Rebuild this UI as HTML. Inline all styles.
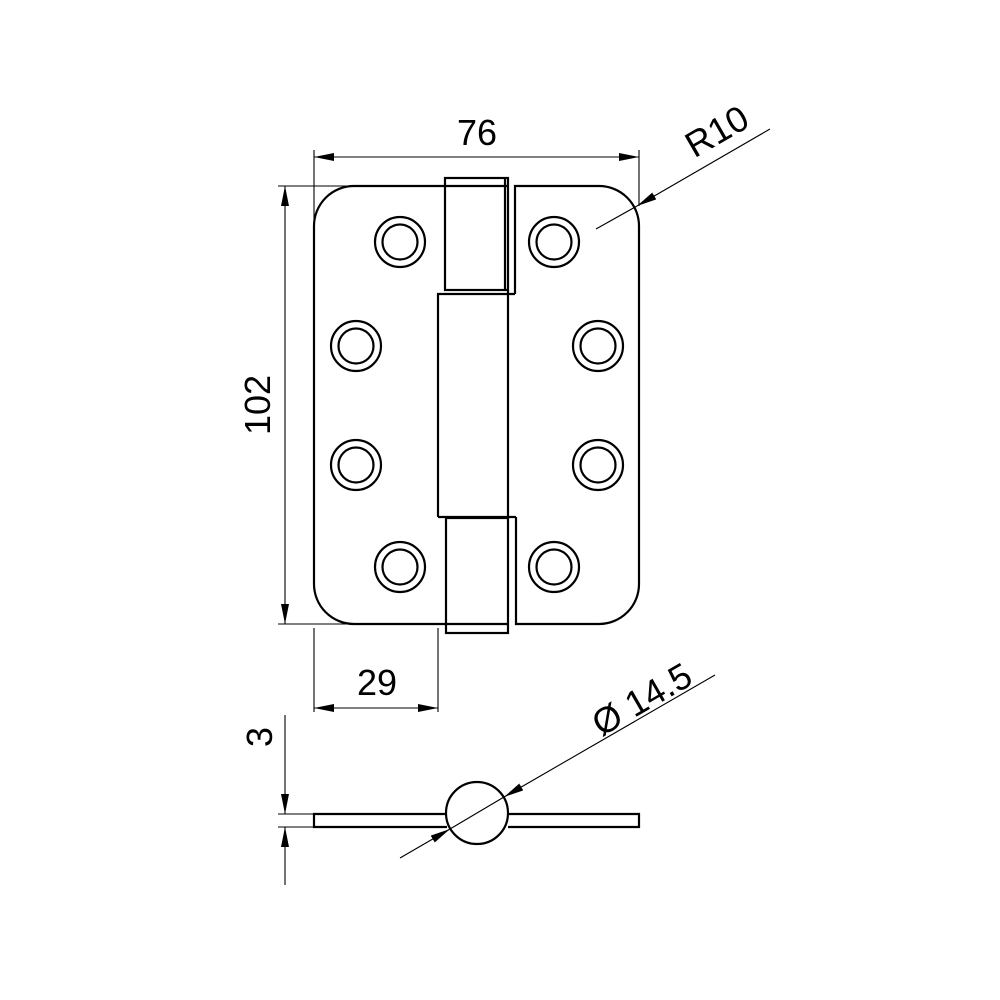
<!DOCTYPE html>
<html><head><meta charset="utf-8"><style>html,body{margin:0;padding:0;background:#fff}svg{display:block}</style></head>
<body>
<svg width="1000" height="1000" viewBox="0 0 1000 1000" xmlns="http://www.w3.org/2000/svg">
<defs>
<marker id="a" viewBox="0 0 20 8" refX="20" refY="4" markerWidth="20" markerHeight="8" markerUnits="userSpaceOnUse" orient="auto"><path d="M0,0 L20,4 L0,8 Z" fill="#000"/></marker>
<marker id="s" viewBox="0 0 20 8" refX="0" refY="4" markerWidth="20" markerHeight="8" markerUnits="userSpaceOnUse" orient="auto"><path d="M20,0 L0,4 L20,8 Z" fill="#000"/></marker>
</defs>
<g fill="none" stroke="#000" stroke-width="2.2">
<!-- left leaf -->
<path d="M445,186 L354,186 A40,40 0 0 0 314,226 L314,584 A40,40 0 0 0 354,624 L446,624"/>
<!-- right leaf -->
<path d="M515,294 L515,186 L599,186 A40,40 0 0 1 639,226 L639,584 A40,40 0 0 1 599,624 L516,624 L516,517"/>
<!-- top knuckle -->
<rect x="445" y="178" width="63" height="112"/>
<line x1="445" y1="186" x2="508" y2="186"/>
<line x1="505" y1="178" x2="505" y2="290"/>
<!-- middle knuckle -->
<path d="M438,517 L438,294 L515,294"/>
<line x1="508" y1="290" x2="508" y2="517"/>
<line x1="438" y1="517" x2="516" y2="517"/>
<!-- bottom knuckle -->
<rect x="446" y="518" width="62" height="115"/>
<line x1="446" y1="624" x2="508" y2="624"/>
<!-- holes -->
<g>
<circle cx="400" cy="242" r="25"/><circle cx="400" cy="242" r="17.5"/>
<circle cx="554" cy="242" r="25"/><circle cx="554" cy="242" r="17.5"/>
<circle cx="356" cy="346" r="25"/><circle cx="356" cy="346" r="17.5"/>
<circle cx="598" cy="346" r="25"/><circle cx="598" cy="346" r="17.5"/>
<circle cx="356" cy="465" r="25"/><circle cx="356" cy="465" r="17.5"/>
<circle cx="598" cy="465" r="25"/><circle cx="598" cy="465" r="17.5"/>
<circle cx="400" cy="567" r="25"/><circle cx="400" cy="567" r="17.5"/>
<circle cx="554" cy="567" r="25"/><circle cx="554" cy="567" r="17.5"/>
</g>
<!-- side view -->
<path d="M447,814 L314,814 L314,827 L447,827"/>
<path d="M508,814 L639,814 L639,827 L508,827"/>
<circle cx="477" cy="813" r="31"/>
</g>
<g fill="none" stroke="#000" stroke-width="1.1">
<!-- 76 -->
<line x1="314" y1="150" x2="314" y2="220"/>
<line x1="639" y1="150" x2="639" y2="206"/>
<line x1="314" y1="157" x2="639" y2="157" marker-start="url(#s)" marker-end="url(#a)"/>
<!-- 102 -->
<line x1="278" y1="186" x2="445" y2="186"/>
<line x1="278" y1="624" x2="354" y2="624"/>
<line x1="285" y1="186" x2="285" y2="624" marker-start="url(#s)" marker-end="url(#a)"/>
<!-- 29 -->
<line x1="314" y1="628" x2="314" y2="712"/>
<line x1="438" y1="628" x2="438" y2="712"/>
<line x1="314" y1="708" x2="438" y2="708" marker-start="url(#s)" marker-end="url(#a)"/>
<!-- R10 -->
<line x1="770" y1="129" x2="637" y2="206" marker-end="url(#a)"/>
<line x1="637" y1="206" x2="596" y2="229"/>
<!-- 3 -->
<line x1="278" y1="814" x2="314" y2="814"/>
<line x1="278" y1="827" x2="314" y2="827"/>
<line x1="285" y1="715" x2="285" y2="814" marker-end="url(#a)"/>
<line x1="285" y1="885" x2="285" y2="827" marker-end="url(#a)"/>
<!-- diameter -->
<line x1="715" y1="675" x2="504" y2="797" marker-end="url(#a)"/>
<line x1="504" y1="797" x2="450" y2="829"/>
<line x1="400" y1="858" x2="450" y2="829" marker-end="url(#a)"/>
</g>
<g font-family="Liberation Sans, sans-serif" font-size="36" fill="#000" text-anchor="middle">
<text x="477" y="145">76</text>
<text x="377" y="695">29</text>
<text transform="translate(270,405) rotate(-90)">102</text>
<text transform="translate(272,737) rotate(-90)">3</text>
<text transform="translate(723,142) rotate(-30)">R10</text>
<text transform="translate(648,710) rotate(-30)">Ø 14.5</text>
</g>
</svg>
</body></html>
